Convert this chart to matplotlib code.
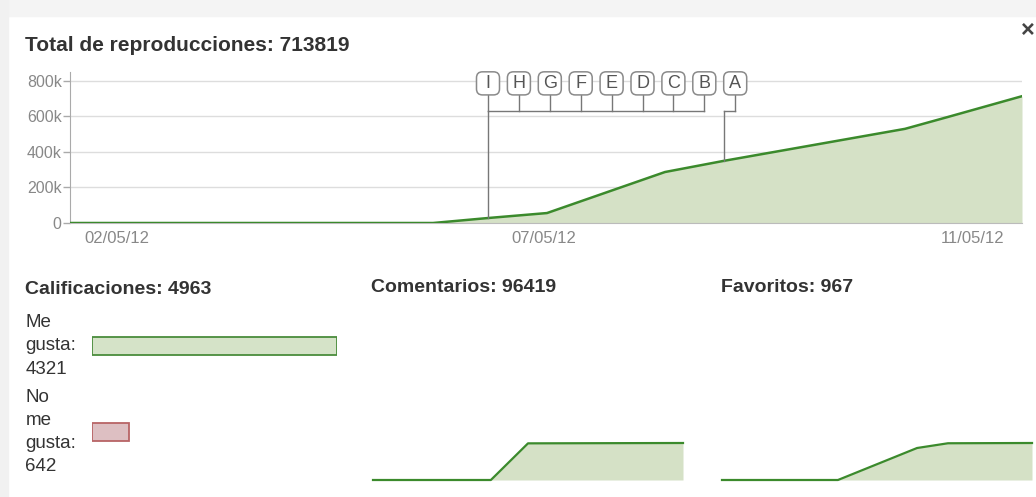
import numpy as np
import matplotlib
matplotlib.use("Agg")
import matplotlib.pyplot as plt
from matplotlib.patches import FancyBboxPatch, Rectangle

plt.rcParams['font.family'] = ['Liberation Sans', 'DejaVu Sans']

# datos (dias desde el inicio del eje)
dias = [0, 3.63, 4.18, 4.77, 5.95, 6.54, 8.35, 8.78, 9.52]
reproducciones = [0, 0, 28000, 56000, 287000, 350000, 530000, 597000, 713819]
total_repro = 713819

fechas_pos = [0.47, 4.74, 9.03]
fechas = ['02/05/12', '07/05/12', '11/05/12']

y_ticks = [0, 200000, 400000, 600000, 800000]
y_labels = ['0', '200k', '400k', '600k', '800k']

eventos_x = [4.18, 6.54]
etiquetas = ['I', 'H', 'G', 'F', 'E', 'D', 'C', 'B', 'A']
grupo = [0, 0, 0, 0, 0, 0, 0, 0, 1]   # a que evento va cada etiqueta

calificaciones = ['Me\ngusta:\n4321', 'No\nme\ngusta:\n642']
votos = [4321, 642]

comentarios_x = [0, 3.62, 4.76, 9.52]
comentarios = [0, 0, 95500, 96419]
favoritos_x = [0, 3.56, 5.99, 6.94, 9.52]
favoritos = [0, 0, 836, 960, 967]

verde = '#3b8a2c'
relleno = '#d5e1c6'
gris = '#888888'

W, H = 1036, 497
fig = plt.figure(figsize=(W / 100, H / 100), dpi=100)

def fx(px):
    return px / W

def fy(py):
    return 1 - py / H

# sombra del popup
fig.patches.append(Rectangle((0, fy(16)), 1, 16 / H, transform=fig.transFigure,
                             color='#f4f4f4', zorder=0))
fig.patches.append(Rectangle((0, 0), 8 / W, 1, transform=fig.transFigure,
                             color='#f1f1f1', zorder=0))

fig.text(fx(25), fy(46), 'Total de reproducciones: %d' % total_repro,
         fontsize=15, fontweight='bold', color='#333333', va='center')
fig.text(fx(1028), fy(30), '×', fontsize=17, fontweight='bold',
         color='#444444', ha='center', va='center')

# grafico principal
ax = fig.add_axes([fx(70), fy(223), (1022 - 70) / W, (223 - 72) / H])
ax.fill_between(dias, reproducciones, color=relleno, lw=0, zorder=2)
ax.plot(dias, reproducciones, color=verde, lw=1.8, zorder=3)
ax.set_xlim(0, dias[-1])
ax.set_ylim(0, 850000)
ax.set_yticks(y_ticks)
ax.set_yticklabels(y_labels)
ax.set_xticks(fechas_pos)
ax.set_xticklabels(fechas)
ax.tick_params(axis='y', length=5, width=1, color='#aaaaaa', pad=1,
               labelsize=11.5, labelcolor=gris)
ax.tick_params(axis='x', length=0, pad=6, labelsize=12, labelcolor=gris)
ax.grid(axis='y', color='#dddddd', lw=1, zorder=1)
for s in ['top', 'right']:
    ax.spines[s].set_visible(False)
ax.spines['left'].set_color('#aaaaaa')
ax.spines['bottom'].set_color('#bbbbbb')

# marcadores de eventos
paso = 0.309
y_brk = 631000
y_box0 = 721000
y_box1 = 851000
ancho = 0.23
eventos_y = np.interp(eventos_x, dias, reproducciones)
cajas_x = [eventos_x[0] + paso * i for i in range(len(etiquetas))]
lc = '#777777'
for k, ev in enumerate(eventos_x):
    xs = [cajas_x[i] for i in range(len(etiquetas)) if grupo[i] == k]
    izq = min(xs + [ev])
    der = max(xs + [ev])
    ax.plot([izq, der], [y_brk, y_brk], color=lc, lw=1, zorder=4, clip_on=False)
    ax.plot([ev, ev], [eventos_y[k], y_brk], color=lc, lw=1, zorder=4, clip_on=False)
for i, et in enumerate(etiquetas):
    cx = cajas_x[i]
    ax.plot([cx, cx], [y_box0, y_brk], color=lc, lw=1, zorder=4, clip_on=False)
    caja = FancyBboxPatch((cx - ancho / 2, y_box0), ancho, y_box1 - y_box0,
                          boxstyle='round,pad=0,rounding_size=0.06',
                          mutation_aspect=5634 / 0.01,
                          fc='white', ec='#8a8a8a', lw=1.1, zorder=5, clip_on=False)
    ax.add_patch(caja)
    ax.text(cx, (y_box0 + y_box1) / 2, et, ha='center', va='center',
            fontsize=13, color='#555555', zorder=6, clip_on=False)

# calificaciones
fig.text(fx(25), fy(289), 'Calificaciones: %d' % sum(votos), fontsize=14,
         fontweight='bold', color='#333333', va='center')
fig.text(fx(371), fy(288), 'Comentarios: %d' % comentarios[-1], fontsize=14,
         fontweight='bold', color='#333333', va='center')
fig.text(fx(721), fy(288), 'Favoritos: %d' % favoritos[-1], fontsize=14,
         fontweight='bold', color='#333333', va='center')

axb = fig.add_axes([fx(92), fy(455), 245 / W, (455 - 323) / H])
pos = [1, 0]
axb.barh(pos, votos, height=0.209, color=['#d5e3c8', '#ddbfc2'],
         edgecolor=['#4a8c3c', '#b86466'], lw=1.3)
axb.set_xlim(-5, max(votos))
axb.set_ylim(-0.267, 1.267)
axb.axis('off')
for p, t in zip(pos, calificaciones):
    axb.text(-67 / 245 * max(votos), p, t, ha='left', va='center',
             fontsize=13.5, color='#333333', linespacing=1.48, clip_on=False)

# minigraficos
for left, xs, ys in [(373, comentarios_x, comentarios), (722, favoritos_x, favoritos)]:
    axs = fig.add_axes([fx(left), fy(480), 310 / W, 40 / H])
    axs.fill_between(xs, ys, color=relleno, lw=0)
    axs.plot(xs, ys, color=verde, lw=1.6, clip_on=False)
    axs.set_xlim(0, xs[-1])
    axs.set_ylim(0, ys[-1] / 0.925)
    axs.axis('off')

fig.savefig('out.png', dpi=100, facecolor='white')
